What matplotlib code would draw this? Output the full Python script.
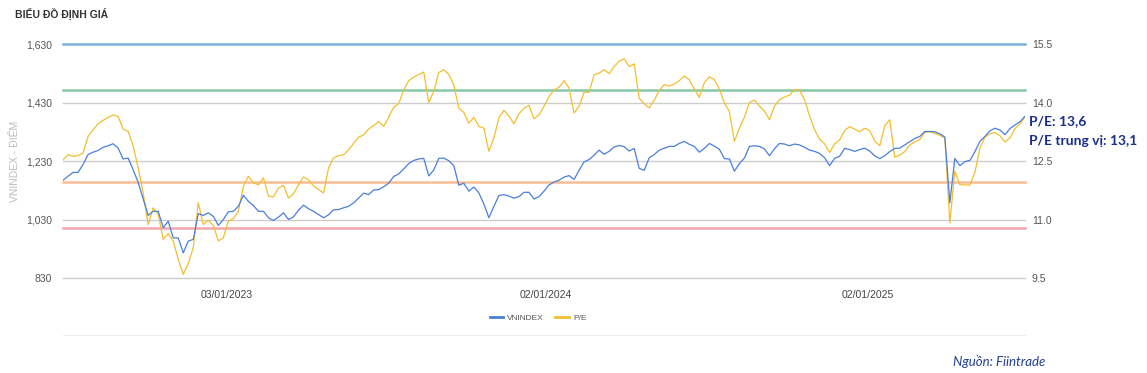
import matplotlib
matplotlib.use("Agg")
import matplotlib.pyplot as plt
from matplotlib.lines import Line2D
import pandas as pd

start_date = "2022-07-01"
end_date = "2025-06-30"

vnindex = [
    1164, 1178, 1191, 1191, 1218, 1252, 1260, 1266, 1277, 1282, 1289, 1274, 1237, 1240, 1200, 1157,
    1100, 1044, 1058, 1058, 1002, 1024, 967, 967, 916, 956, 962, 1050, 1044, 1053, 1041, 1010,
    1030, 1056, 1058, 1075, 1113, 1092, 1078, 1058, 1058, 1036, 1027, 1038, 1053, 1030, 1039, 1062,
    1079,
    1067, 1058, 1047, 1036, 1046, 1063, 1064, 1070, 1075, 1087, 1103, 1120, 1115, 1131, 1132, 1142,
    1154, 1177, 1186, 1203, 1221, 1232, 1237, 1239, 1179, 1199, 1239, 1240, 1231, 1214, 1147, 1154,
    1127, 1141, 1121, 1083, 1036, 1075, 1112, 1115, 1110, 1103, 1108, 1123, 1123, 1100, 1108, 1127,
    1148, 1158, 1164, 1175, 1180, 1167, 1198, 1227, 1235, 1250, 1267, 1253, 1263, 1278, 1283, 1279,
    1264, 1273, 1205, 1198, 1241, 1252, 1267, 1274, 1280, 1280, 1290, 1297, 1287, 1280, 1260, 1273,
    1290, 1281, 1270, 1238, 1237, 1195, 1221, 1240, 1280, 1282, 1280, 1271, 1248, 1272, 1290, 1288,
    1282, 1288, 1285, 1277, 1267, 1263, 1256, 1241, 1214, 1239, 1246, 1273, 1269, 1263, 1269, 1274,
    1264, 1248, 1238, 1248, 1262, 1273, 1274, 1285, 1296, 1307, 1314, 1331, 1331, 1330, 1323, 1312,
    1087, 1239, 1214, 1228, 1232, 1262, 1297, 1314, 1333, 1342, 1336, 1320, 1341, 1353, 1364, 1383,
]

pe = [
    12.53, 12.66, 12.62, 12.64, 12.70, 13.13, 13.30, 13.45, 13.54, 13.62, 13.68, 13.64, 13.32, 13.26, 12.89, 12.32,
    11.68, 10.87, 11.30, 11.13, 10.49, 10.64, 10.45, 9.98, 9.59, 9.87, 10.28, 11.43, 10.87, 10.98, 10.85, 10.45,
    10.53, 10.96, 11.02, 11.21, 11.85, 12.11, 11.94, 11.89, 12.07, 11.60, 11.58, 11.81, 11.87, 11.55, 11.66, 11.89,
    12.09,
    12.02, 11.86, 11.77, 11.68, 12.32, 12.58, 12.64, 12.66, 12.79, 12.95, 13.11, 13.17, 13.32, 13.41, 13.51, 13.39,
    13.62, 13.88, 13.97, 14.32, 14.56, 14.65, 14.72, 14.78, 14.00, 14.28, 14.77, 14.84, 14.72, 14.45, 13.86, 13.74,
    13.47, 13.62, 13.39, 13.34, 12.75, 13.09, 13.61, 13.80, 13.65, 13.45, 13.71, 13.85, 13.93, 13.58, 13.68, 13.90,
    14.15, 14.32, 14.39, 14.56, 14.37, 13.73, 13.90, 14.26, 14.26, 14.71, 14.75, 14.84, 14.74, 14.92, 15.06, 15.12,
    14.92, 14.99, 14.11, 13.97, 13.86, 14.06, 14.31, 14.46, 14.42, 14.47, 14.56, 14.68, 14.58, 14.35, 14.13, 14.51,
    14.66, 14.59, 14.34, 13.99, 13.77, 13.00, 13.34, 13.62, 14.00, 14.06, 13.91, 13.78, 13.56, 13.91, 14.07, 14.14,
    14.19, 14.33, 14.32, 14.07, 13.66, 13.30, 13.06, 12.94, 12.72, 12.94, 13.04, 13.28, 13.38, 13.32, 13.25, 13.34,
    13.28, 13.02, 12.89, 13.40, 13.56, 12.60, 12.65, 12.74, 12.91, 12.99, 13.05, 13.23, 13.25, 13.21, 13.16, 13.09,
    10.91, 12.24, 11.89, 11.89, 11.88, 12.21, 12.83, 13.11, 13.20, 13.23, 13.15, 12.99, 13.09, 13.33, 13.45, 13.64,
]

left_ticks = [830, 1030, 1230, 1430, 1630]
left_tick_labels = ["830", "1,030", "1,230", "1,430", "1,630"]
right_ticks = [9.5, 11.0, 12.5, 14.0, 15.5]
right_tick_labels = ["9.5", "11.0", "12.5", "14.0", "15.5"]
x_tick_dates = ["2023-01-03", "2024-01-02", "2025-01-02"]
x_tick_labels = ["03/01/2023", "02/01/2024", "02/01/2025"]

# P/E reference bands (mean +/- 1, 2 std)
band_values = [15.5, 14.32, 11.95, 10.77]
band_colors = ["#7fb1de", "#86c9a6", "#f9bd95", "#f3a6ad"]

series_names = ["VNINDEX", "P/E"]
pe_now_text = "P/E: 13,6"
pe_median_text = "P/E trung vị: 13,1"
title_text = "BIỂU ĐỒ ĐỊNH GIÁ"
ylabel_text = "VNINDEX - ĐIỂM"
source_text = "Nguồn: Fiintrade"

# ---------------- plotting ----------------
plt.rcParams["font.family"] = ["Liberation Sans", "DejaVu Sans"]

dates = pd.date_range(start_date, end_date, periods=len(vnindex))

W, H = 1147, 373
fig = plt.figure(figsize=(W / 100, H / 100), dpi=100)
ax_l, ax_r_px, ax_t, ax_b = 63, 1025, 44, 278
ax = fig.add_axes([ax_l / W, 1 - ax_b / H, (ax_r_px - ax_l) / W, (ax_b - ax_t) / H])
ax2 = ax.twinx()

blue = "#4a7fdb"
yellow = "#f2bf30"
tick_color = "#555555"

ax.set_ylim(830, 1630)
ax2.set_ylim(9.5, 15.5)
ax.set_xlim(dates[0], dates[-1])

# gridlines (shared positions) and P/E bands on the lower axes
for v in right_ticks:
    ax2.axhline(v, color="#cccccc", lw=1.0, zorder=0, clip_on=False)
for v, c in zip(band_values, band_colors):
    ax2.axhline(v, color=c, lw=1.8, zorder=1, clip_on=False)

ax2.plot(dates, pe, color=yellow, lw=0.9, zorder=2)
ax.plot(dates, vnindex, color=blue, lw=0.9, zorder=3)

# VNINDEX axes on top, transparent
ax2.set_zorder(1)
ax.set_zorder(2)
ax.patch.set_visible(False)

for a in (ax, ax2):
    for s in a.spines.values():
        s.set_visible(False)

ax.set_yticks(left_ticks)
ax.set_yticklabels(left_tick_labels)
ax2.set_yticks(right_ticks)
ax2.set_yticklabels(right_tick_labels)
ax.tick_params(axis="y", length=0, pad=8, labelsize=7.5, labelcolor=tick_color)
ax2.tick_params(axis="y", length=0, pad=5, labelsize=7.5, labelcolor=tick_color)

ax.set_xticks(pd.to_datetime(x_tick_dates))
ax.set_xticklabels(x_tick_labels)
ax.tick_params(axis="x", length=0, pad=9, labelsize=7.5, labelcolor="#444444")
ax2.tick_params(axis="x", length=0, labelbottom=False)

ax.set_ylabel(ylabel_text, color="#bbbbbb", fontsize=7.5, labelpad=4)

# title
fig.text(15 / W, 1 - 14 / H, title_text, fontsize=7.5, fontweight="bold",
         color="#333333", va="center", ha="left")

# legend
handles = [Line2D([0], [0], color=blue, lw=2),
           Line2D([0], [0], color=yellow, lw=2)]
fig.legend(handles, series_names, loc="center", bbox_to_anchor=(538 / W, 1 - 318 / H),
           ncol=2, frameon=False, fontsize=6, handlelength=1.6, columnspacing=1.4,
           labelcolor="#555555", handletextpad=0.5)

# faint separator
fig.add_artist(Line2D([63 / W, 1025 / W], [1 - 335 / H, 1 - 335 / H],
                      color="#eeeeee", lw=0.8))

# annotations
navy = "#1a2f8c"
fig.text(1029 / W, 1 - 121 / H, pe_now_text, fontsize=10, fontweight="bold",
         color=navy, va="center", ha="left", family=["Lato", "DejaVu Sans"])
fig.text(1029 / W, 1 - 141 / H, pe_median_text, fontsize=10, fontweight="bold",
         color=navy, va="center", ha="left", family=["Lato", "DejaVu Sans"])

fig.text(1045 / W, 1 - 362 / H, source_text, fontsize=9.5, style="italic",
         color="#23408e", va="center", ha="right", family=["Lato", "DejaVu Sans"])

fig.savefig("out.png", dpi=100)
